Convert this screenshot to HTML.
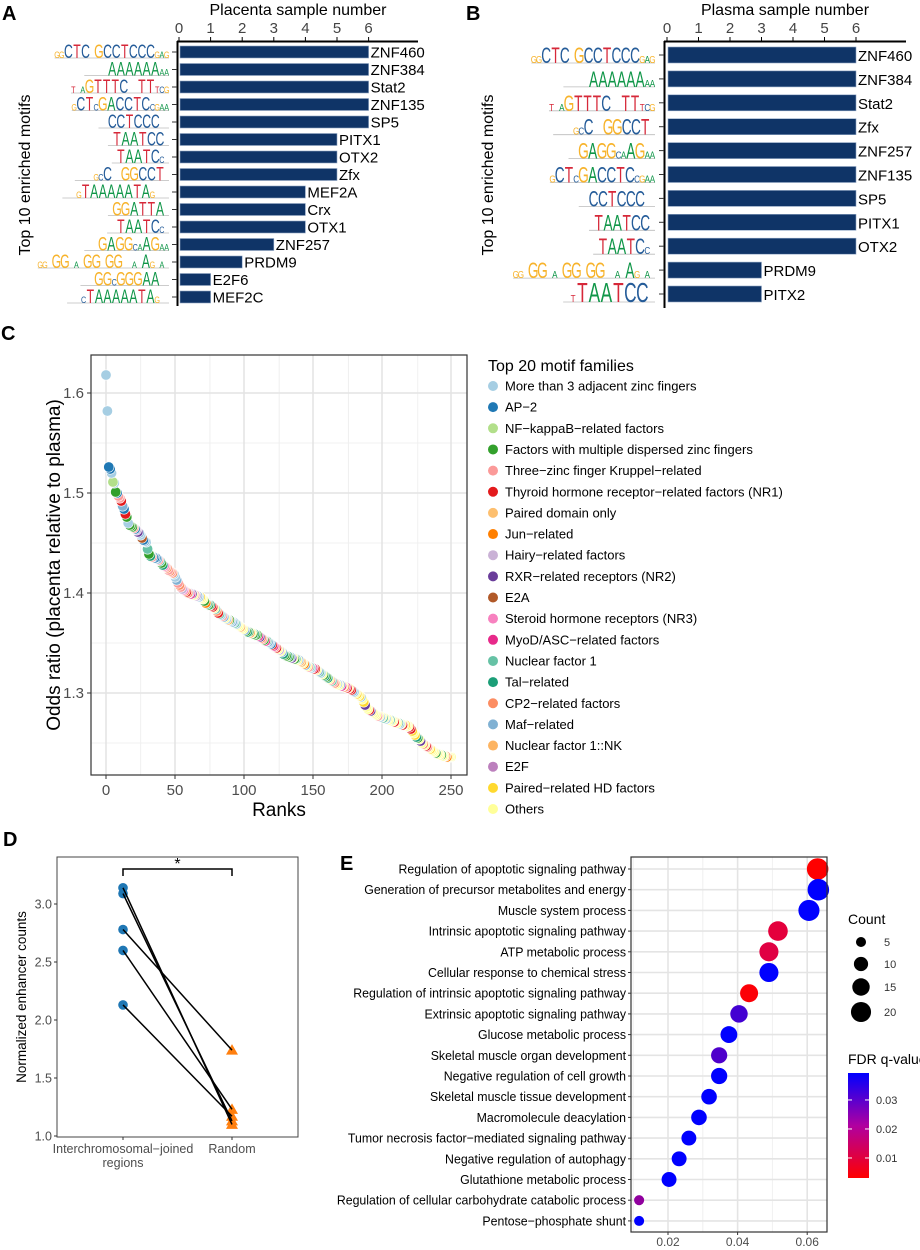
<!DOCTYPE html>
<html><head><meta charset="utf-8"><style>
html,body{margin:0;padding:0;background:#fff}
svg{display:block;font-family:"Liberation Sans",Arial,sans-serif}
</style></head><body>
<svg id="fig" width="920" height="1250" viewBox="0 0 920 1250" xmlns="http://www.w3.org/2000/svg">
<rect width="920" height="1250" fill="#fff"/>
<g id="pA"></g>
<g id="pB"></g>
<g id="pC"></g>
<g id="pD"></g>
<g id="pE"></g>
</svg>
<script>
// ---------- Panel A data ----------
const aNames=["ZNF460","ZNF384","Stat2","ZNF135","SP5","PITX1","OTX2","Zfx","MEF2A","Crx","OTX1","ZNF257","PRDM9","E2F6","MEF2C"];
const aValues=[6,6,6,6,6,5,5,5,4,4,4,3,2,1,1];
const aLogos=["ggCTC_GCCTCCCgag","_____AAAAAAaa","t_aGTTTC__TTtcg","gCTcGACCTCcgaa","__CCTCCC__","_TAATCC_","_TAATCc_","____gcC__GGCCT_","___gTAAAAATAg___","_GGATTA_","__TAATCc_","___GAGGcaAGaa","gg_GG_a_GG_GG__a_Ag_a_","___GGcGGGAA__","___cTAAAAATAg__"];
const aTicks=[0,1,2,3,4,5,6];
// ---------- Panel B data ----------
const bNames=["ZNF460","ZNF384","Stat2","Zfx","ZNF257","ZNF135","SP5","PITX1","OTX2","PRDM9","PITX2"];
const bValues=[6,6,6,6,6,6,6,6,6,3,3];
const bLogos=["ggCTC_GCCTCCCgag","_____AAAAAAaa","t_aGTTTC__TTtcg","____gcC__GGCCT_","__GAGGcaAGaa","gCTcGACCTCcgaa","__CCTCCC__","_TAATCC_","_TAATCc_","gg_GG_a_GG_GG__a_Ag_a_","_tTAATCC_"];
const bTicks=[0,1,2,3,4,5,6];
// ---------- Panel C data ----------
const cFamilies=["More than 3 adjacent zinc fingers","AP\u22122","NF\u2212kappaB\u2212related factors","Factors with multiple dispersed zinc fingers","Three\u2212zinc finger Kruppel\u2212related","Thyroid hormone receptor\u2212related factors (NR1)","Paired domain only","Jun\u2212related","Hairy\u2212related factors","RXR\u2212related receptors (NR2)","E2A","Steroid hormone receptors (NR3)","MyoD/ASC\u2212related factors","Nuclear factor 1","Tal\u2212related","CP2\u2212related factors","Maf\u2212related","Nuclear factor 1::NK","E2F","Paired\u2212related HD factors","Others"];
const cColors=["#a6cee3","#1f78b4","#b2df8a","#33a02c","#fb9a99","#e31a1c","#fdbf6f","#ff7f00","#cab2d6","#6a3d9a","#b15928","#f781bf","#e7298a","#66c2a5","#1b9e77","#fc8d62","#80b1d3","#fdb462","#bc80bd","#ffd92f","#ffff99"];
const cOdds=[1.618,1.582,1.526,1.524,1.520,1.511,1.510,1.501,1.500,1.497,
1.495,1.492,1.487,1.484,1.479,1.476,1.470,1.468,1.467,1.466,
1.465,1.464,1.463,1.461,1.460,1.458,1.455,1.453,1.452,1.451,
1.444,1.439,1.437,1.436,1.436,1.435,1.435,1.434,1.433,1.432,
1.430,1.428,1.427,1.426,1.425,1.423,1.422,1.421,1.420,1.419,
1.416,1.413,1.410,1.408,1.406,1.404,1.403,1.402,1.401,1.400,
1.400,1.399,1.399,1.398,1.398,1.397,1.397,1.396,1.396,1.395,
1.394,1.392,1.390,1.389,1.388,1.388,1.387,1.386,1.385,1.384,
1.382,1.380,1.379,1.378,1.377,1.376,1.375,1.374,1.373,1.373,
1.372,1.371,1.371,1.370,1.369,1.368,1.367,1.366,1.365,1.364,
1.363,1.362,1.361,1.361,1.360,1.360,1.359,1.359,1.358,1.358,
1.357,1.356,1.355,1.354,1.353,1.352,1.352,1.351,1.350,1.349,
1.348,1.347,1.346,1.345,1.344,1.343,1.342,1.341,1.339,1.338,
1.337,1.337,1.336,1.336,1.335,1.335,1.334,1.334,1.333,1.333,
1.332,1.331,1.330,1.329,1.328,1.327,1.326,1.326,1.325,1.325,
1.324,1.324,1.323,1.322,1.321,1.320,1.319,1.318,1.317,1.316,
1.315,1.314,1.313,1.312,1.311,1.310,1.309,1.309,1.308,1.308,
1.307,1.307,1.306,1.306,1.305,1.305,1.304,1.303,1.302,1.301,
1.300,1.299,1.298,1.297,1.296,1.294,1.291,1.288,1.286,1.284,
1.283,1.282,1.281,1.280,1.279,1.278,1.277,1.277,1.276,1.276,
1.275,1.275,1.274,1.274,1.273,1.273,1.272,1.272,1.271,1.271,
1.270,1.270,1.269,1.269,1.268,1.268,1.268,1.267,1.267,1.266,
1.264,1.262,1.260,1.258,1.256,1.255,1.254,1.252,1.250,1.249,
1.248,1.247,1.246,1.245,1.244,1.243,1.242,1.241,1.240,1.239,
1.239,1.238,1.238,1.237,1.237,1.237,1.236,1.236,1.236,1.236];
const cFamilyCodes="0011020314"+"45g1530333"+"4189g0a1g0"+"d3e4111g4d"+"3eb4f4f4f0"+"0g4f48bf5f"+"8c9k48g0jk"+"k37d3e55kd"+"f5d04gk0h3"+"0g0d0kk6kk"+"g3e3hk3e33"+"c9f43cdg01"+"5c45k8kge3"+"3e3g9k3dkg"+"6hk7gk4d0c"+"55kgd0k3e3"+"ek4d4fk0kg"+"ckfc5k55g0"+"kjkj0kj9kk"+"59kkkk4k0k"+"dk0kkdkk5k"+"kd0k5kjkk5"+"5jkje3k9kf"+"k54kjkkk3k"+"kk3kkf7kkk";
const cXTicks=[0,50,100,150,200,250];
const cYTicks=[1.3,1.4,1.5,1.6];
// ---------- Panel D data ----------
const dGroups=["Interchromosomal\u2212joined regions","Random"];
const dJoined=[3.14,3.09,2.78,2.60,2.13];
const dRandom=[1.10,1.13,1.74,1.23,1.17];
const dYTicks=[1.0,1.5,2.0,2.5,3.0];
// ---------- Panel E data ----------
const eTerms=["Regulation of apoptotic signaling pathway","Generation of precursor metabolites and energy","Muscle system process","Intrinsic apoptotic signaling pathway","ATP metabolic process","Cellular response to chemical stress","Regulation of intrinsic apoptotic signaling pathway","Extrinsic apoptotic signaling pathway","Glucose metabolic process","Skeletal muscle organ development","Negative regulation of cell growth","Skeletal muscle tissue development","Macromolecule deacylation","Tumor necrosis factor\u2212mediated signaling pathway","Negative regulation of autophagy","Glutathione metabolic process","Regulation of cellular carbohydrate catabolic process","Pentose\u2212phosphate shunt"];
const eRatio=[0.0630,0.0632,0.0605,0.0516,0.0490,0.0490,0.0433,0.0404,0.0375,0.0347,0.0347,0.0318,0.0289,0.0260,0.0232,0.0203,0.0117,0.0117];
const eCount=[23,23,22,19,18,18,16,15,14,13,13,12,12,11,11,11,5,5];
const eQ=[0.003,0.039,0.039,0.012,0.013,0.039,0.004,0.033,0.039,0.032,0.039,0.039,0.039,0.039,0.039,0.039,0.026,0.039];
const eXTicks=[0.02,0.04,0.06];
const eCountLegend=[5,10,15,20];
const eQTicks=[0.01,0.02,0.03];

const NS="http://www.w3.org/2000/svg";
function mk(parent,tag,attrs,text){const e=document.createElementNS(NS,tag);for(const k in attrs)e.setAttribute(k,attrs[k]);if(text!==undefined)e.textContent=text;parent.appendChild(e);return e;}
const LC={A:"#109648",C:"#255c99",G:"#f7b32b",T:"#d62839"};

function drawLogo(g,str,xEnd,yBase,big,small,adv){
  let w=0;for(const ch of str){w+= ch==="_"?adv*0.55:(ch===ch.toUpperCase()?adv:adv*0.55);}
  let x=xEnd-w;
  mk(g,"line",{x1:x,y1:yBase,x2:xEnd,y2:yBase,stroke:"#bbb","stroke-width":0.8});
  for(const ch of str){
    if(ch==="_"){x+=adv*0.55;continue;}
    const up=ch===ch.toUpperCase();const fs=up?big:small;const aw=up?adv:adv*0.55;
    mk(g,"text",{x:0,y:0,fill:LC[ch.toUpperCase()],"font-size":fs,"text-anchor":"middle",transform:`translate(${x+aw/2},${yBase}) scale(${up?0.72:0.9},1.15)`},ch.toUpperCase());
    x+=aw;
  }
}

// ---------- Panel A ----------
(function(){
const g=document.getElementById("pA");
const x0=179,sx=31.6,y0=52,dy=17.5,bh=12;
const X=v=>x0+v*sx;
const lab=mk(g,"text",{x:2,y:20,"font-size":20,"font-weight":"bold"},"A");

const t=mk(g,"text",{x:298,y:15,"font-size":16,"text-anchor":"middle"},"Placenta sample number");

aTicks.forEach(v=>{mk(g,"line",{x1:X(v),y1:37,x2:X(v),y2:42,stroke:"#000","stroke-width":1});
 const tl=mk(g,"text",{x:X(v),y:33,"font-size":15,"text-anchor":"middle",fill:"#444"},v);
 });
mk(g,"line",{x1:177,y1:41.5,x2:418,y2:41.5,stroke:"#000","stroke-width":2});
mk(g,"line",{x1:177.5,y1:41,x2:177.5,y2:306,stroke:"#000","stroke-width":2});
const yt=mk(g,"text",{x:0,y:0,"font-size":16,"text-anchor":"middle",transform:"translate(30,175) rotate(-90)"},"Top 10 enriched motifs");

aValues.forEach((v,i)=>{const y=y0+i*dy;
 const b=mk(g,"rect",{x:x0+1,y:y-bh/2,width:X(v)-x0-1,height:bh,fill:"#0f3467",stroke:"#8fa6c4","stroke-width":0.6});
 
 const l=mk(g,"text",{x:X(v)+2,y:y+5.5,"font-size":15},aNames[i]);
 
 mk(g,"line",{x1:172,y1:y,x2:177,y2:y,stroke:"#333","stroke-width":1});
 const lg=mk(g,"g",{});
 drawLogo(lg,aLogos[i],169,y+6,17,8,8.6);
});
})();

// ---------- Panel B ----------
(function(){
const g=document.getElementById("pB");
const x0=667,sx=31.5,y0=55,dy=23.9,bh=16;
const X=v=>x0+v*sx;
const lab=mk(g,"text",{x:466,y:20,"font-size":20,"font-weight":"bold"},"B");

const t=mk(g,"text",{x:785,y:15,"font-size":16,"text-anchor":"middle"},"Plasma sample number");

bTicks.forEach(v=>{mk(g,"line",{x1:X(v),y1:37,x2:X(v),y2:42,stroke:"#000","stroke-width":1});
 const tl=mk(g,"text",{x:X(v),y:33,"font-size":15,"text-anchor":"middle",fill:"#444"},v);
 });
mk(g,"line",{x1:664,y1:41.5,x2:906,y2:41.5,stroke:"#000","stroke-width":2});
mk(g,"line",{x1:664.5,y1:41,x2:664.5,y2:308,stroke:"#000","stroke-width":2});
const yt=mk(g,"text",{x:0,y:0,"font-size":16,"text-anchor":"middle",transform:"translate(493,175) rotate(-90)"},"Top 10 enriched motifs");

bValues.forEach((v,i)=>{const y=y0+i*dy;
 const b=mk(g,"rect",{x:x0+1,y:y-bh/2,width:X(v)-x0-1,height:bh,fill:"#0f3467",stroke:"#8fa6c4","stroke-width":0.6});
 
 const l=mk(g,"text",{x:X(v)+2,y:y+6,"font-size":15},bNames[i]);
 
 mk(g,"line",{x1:659,y1:y,x2:664,y2:y,stroke:"#333","stroke-width":1});
 const lg=mk(g,"g",{});
 const last=i===bValues.length-1;
 drawLogo(lg,bLogos[i],655,y+8,last?24:19,9,last?12:9.3);
});
})();

// ---------- Panel C ----------
(function(){
const g=document.getElementById("pC");
const L=91,R=467,T=355,B=775;
const X=v=>106+(v-1)*(451-106)/249;
const Y=v=>393+(1.6-v)*1000;
const lab=mk(g,"text",{x:1,y:340,"font-size":20,"font-weight":"bold"},"C");

[1.25,1.35,1.45,1.55].forEach(v=>mk(g,"line",{x1:L,x2:R,y1:Y(v),y2:Y(v),stroke:"#f0f0f0","stroke-width":1}));
[25,75,125,175,225].forEach(v=>mk(g,"line",{x1:X(v+1),x2:X(v+1),y1:T,y2:B,stroke:"#f0f0f0","stroke-width":1}));
cYTicks.forEach(v=>{mk(g,"line",{x1:L,x2:R,y1:Y(v),y2:Y(v),stroke:"#e4e4e4","stroke-width":1.6});
 mk(g,"line",{x1:L-4,x2:L,y1:Y(v),y2:Y(v),stroke:"#333"});
 const tl=mk(g,"text",{x:L-7,y:Y(v)+5,"font-size":15,"text-anchor":"end",fill:"#4d4d4d"},v.toFixed(1));
 });
cXTicks.forEach(v=>{const xx=106+v*(451-106)/250;
 mk(g,"line",{x1:xx,x2:xx,y1:T,y2:B,stroke:"#e4e4e4","stroke-width":1.6});
 mk(g,"line",{x1:xx,x2:xx,y1:B,y2:B+4,stroke:"#333"});
 const tl=mk(g,"text",{x:xx,y:B+20,"font-size":15,"text-anchor":"middle",fill:"#4d4d4d"},v);
 });
const pts=mk(g,"g",{});
for(let i=cOdds.length-1;i>=0;i--){const fi=parseInt(cFamilyCodes[i],36);
 const c=mk(pts,"circle",{cx:X(i+1),cy:Y(cOdds[i]),r:5.2,fill:cColors[fi],stroke:"#fff","stroke-width":0.6});
 }
mk(g,"rect",{x:L,y:T,width:R-L,height:B-T,fill:"none",stroke:"#333","stroke-width":1.2});
const xt=mk(g,"text",{x:279,y:816,"font-size":19,"text-anchor":"middle"},"Ranks");

const yt=mk(g,"text",{x:0,y:0,"font-size":19,"text-anchor":"middle",transform:"translate(60,565) rotate(-90)"},"Odds ratio (placenta  relative to plasma)");

const lt=mk(g,"text",{x:488,y:371,"font-size":16},"Top 20 motif families");

cFamilies.forEach((f,i)=>{const y=386+i*21.15;
 const e=mk(g,"g",{});
 mk(e,"circle",{cx:493,cy:y,r:5,fill:cColors[i]});
 mk(e,"text",{x:505,y:y+4.5,"font-size":13},f);});
})();

// ---------- Panel D ----------
(function(){
const g=document.getElementById("pD");
const L=57,R=298,T=857,B=1137;
const Y=v=>1136-(v-1)*116;
const xL=123,xR=232;
const lab=mk(g,"text",{x:3,y:846,"font-size":20,"font-weight":"bold"},"D");

mk(g,"rect",{x:L,y:T,width:R-L,height:B-T,fill:"none",stroke:"#444","stroke-width":1});
dYTicks.forEach(v=>{mk(g,"line",{x1:L-3,x2:L,y1:Y(v),y2:Y(v),stroke:"#333"});
 const tl=mk(g,"text",{x:L-5,y:Y(v)+4.5,"font-size":12.5,"text-anchor":"end",fill:"#4d4d4d"},v.toFixed(1));
 });
[xL,xR].forEach(x=>mk(g,"line",{x1:x,x2:x,y1:B,y2:B+3,stroke:"#333"}));
const g1=mk(g,"text",{x:xL,y:1153,"font-size":12.5,"text-anchor":"middle",fill:"#4d4d4d"},"Interchromosomal\u2212joined");

mk(g,"text",{x:xL,y:1167,"font-size":12.5,"text-anchor":"middle",fill:"#4d4d4d"},"regions");
const g2=mk(g,"text",{x:xR,y:1153,"font-size":12.5,"text-anchor":"middle",fill:"#4d4d4d"},dGroups[1]);

const yt=mk(g,"text",{x:0,y:0,"font-size":13.5,"text-anchor":"middle",transform:"translate(26,997) rotate(-90)"},"Normalized enhancer counts");

dJoined.forEach((v,i)=>{const c=mk(g,"circle",{cx:xL,cy:Y(v),r:4.8,fill:"#1f77b4"});
 });
dRandom.forEach((v,i)=>{const y=Y(v);const p=mk(g,"polygon",{points:`${xR},${y-6} ${xR-6},${y+4.5} ${xR+6},${y+4.5}`,fill:"#ff7f0e"});
 });
dJoined.forEach((v,i)=>{const l=mk(g,"line",{x1:xL,y1:Y(v),x2:xR,y2:Y(dRandom[i]),stroke:"#000","stroke-width":1.5});
 });
const br=mk(g,"path",{d:`M${xL},876 V869 H${xR} V876`,fill:"none",stroke:"#000","stroke-width":1.5});

const st=mk(g,"text",{x:(xL+xR)/2,y:869,"font-size":16,"text-anchor":"middle"},"*");

})();

// ---------- Panel E ----------
(function(){
const g=document.getElementById("pE");
const L=631,R=827,T=857,B=1232;
const X=v=>668+(v-0.02)*3480;
const Y=i=>869+i*20.7;
const rad=c=>2.25*Math.sqrt(c);
function lerp(a,b,t){return a.map((v,k)=>Math.round(v+(b[k]-v)*t));}
function qcol(q){const t=Math.max(0,Math.min(1,(q-0.003)/(0.039-0.003)));
 const red=[255,0,0],mid=[200,0,120],blue=[0,0,255];
 const c=t<0.5?lerp(red,mid,t*2):lerp(mid,blue,(t-0.5)*2);return `rgb(${c[0]},${c[1]},${c[2]})`;}
const lab=mk(g,"text",{x:340,y:870,"font-size":20,"font-weight":"bold"},"E");

[0.01,0.03,0.05].forEach(v=>mk(g,"line",{x1:X(v),x2:X(v),y1:T,y2:B,stroke:"#f0f0f0","stroke-width":1}));
eXTicks.forEach(v=>{mk(g,"line",{x1:X(v),x2:X(v),y1:T,y2:B,stroke:"#e4e4e4","stroke-width":1.6});
 mk(g,"line",{x1:X(v),x2:X(v),y1:B,y2:B+3,stroke:"#333"});
 const tl=mk(g,"text",{x:X(v),y:B+14,"font-size":12,"text-anchor":"middle",fill:"#4d4d4d"},v.toFixed(2));
 });
eTerms.forEach((t,i)=>{const y=Y(i);
 mk(g,"line",{x1:L,x2:R,y1:y,y2:y,stroke:"#e4e4e4","stroke-width":1.6});
 mk(g,"line",{x1:L-3,x2:L,y1:y,y2:y,stroke:"#333"});
 const tl=mk(g,"text",{x:0,y:0,"font-size":13,"text-anchor":"end",transform:`translate(626,${y+4.5}) scale(0.95,1)`},t);
 });
eTerms.forEach((t,i)=>{const c=mk(g,"circle",{cx:X(eRatio[i]),cy:Y(i),r:rad(eCount[i]),fill:qcol(eQ[i])});
 });
mk(g,"rect",{x:L,y:T,width:R-L,height:B-T,fill:"none",stroke:"#333","stroke-width":1.2});
const ct=mk(g,"text",{x:848,y:924,"font-size":14},"Count");

const ly=[942,964,987,1012];
eCountLegend.forEach((c,i)=>{const e=mk(g,"g",{});
 mk(e,"circle",{cx:861,cy:ly[i],r:rad(c),fill:"#000"});
 mk(e,"text",{x:884,y:ly[i]+4,"font-size":11,fill:"#333"},c);});
const ft=mk(g,"text",{x:848,y:1064,"font-size":14},"FDR q-value");

const defs=mk(document.getElementById("fig"),"defs",{});
const lg=mk(defs,"linearGradient",{id:"qg",x1:0,y1:0,x2:0,y2:1});
mk(lg,"stop",{offset:"0","stop-color":"#0000ff"});mk(lg,"stop",{offset:"0.5","stop-color":"#b000a0"});mk(lg,"stop",{offset:"1","stop-color":"#ff0000"});
const cb=mk(g,"rect",{x:848,y:1073,width:21,height:105,fill:"url(#qg)"});

eQTicks.forEach(q=>{const y=1073+(0.0393-q)*2900;
 mk(g,"line",{x1:848,x2:852,y1:y,y2:y,stroke:"#fff"});mk(g,"line",{x1:865,x2:869,y1:y,y2:y,stroke:"#fff"});
 const tl=mk(g,"text",{x:876,y:y+4,"font-size":11,fill:"#333"},q.toFixed(2));
 });
})();
</script>
</body></html>
